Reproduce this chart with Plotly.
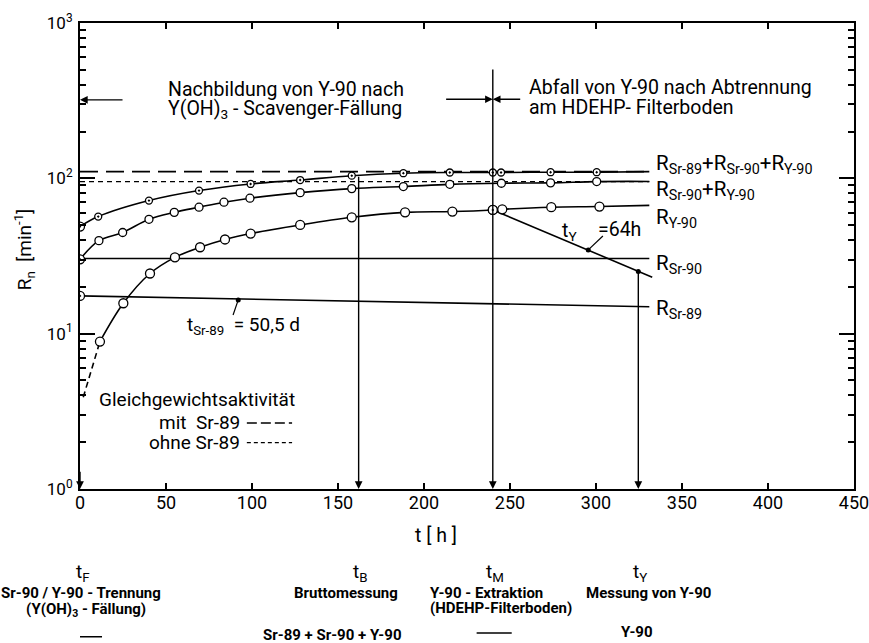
import math
import plotly.graph_objects as go

# ---------------- data ----------------
# R_Sr-89 + R_Sr-90 + R_Y-90 (measured points)
t_top = [0, 10.6, 40.1, 69.2, 99.2, 128, 158, 188, 215, 240, 244.8, 273.6, 300.4]
r_top = [48.9, 56.7, 71.9, 83.4, 92.0, 97.5, 104, 107.9, 109, 109, 109, 109.5, 109.5]
t_top_end = 331
r_top_end = 110.5

# R_Sr-90 + R_Y-90
t_mid = [0, 11, 24.8, 40.1, 54.8, 69.2, 83.7, 98.8, 128, 158, 188, 215, 245, 273.6, 300.4]
r_mid = [30.1, 39.7, 44.8, 54.5, 60.4, 65.2, 70.2, 74.5, 80.9, 85.9, 88.5, 91.5, 93.0, 93.5, 95.3]
t_mid_end = 331
r_mid_end = 95.5

# R_Y-90 ingrowth
t_y90 = [11.6, 25.2, 40.7, 55.2, 69.8, 84.3, 99.2, 128, 158, 189, 216.5, 240, 245.5, 274, 302]
r_y90 = [8.9, 15.7, 24.4, 31.0, 36.0, 40.4, 44.1, 50.1, 56.1, 60.4, 61.1, 62.6, 63.2, 65.2, 65.8]
t_y90_end = 331
r_y90_end = 67.0
t_y90_early = [1.9, 11.6]
r_y90_early = [3.9, 8.9]

# R_Sr-90 and R_Sr-89
t_sr = [0, 331]
r_sr90 = [30.5, 30.5]
r_sr89 = [17.5, 14.9]

# equilibrium activities
r_eq_mit = [110.5, 110.5]
r_eq_ohne = [95.2, 95.2]

# Y-90 decay after extraction
t_decay = [240, 332.7]
r_decay = [62.6, 23.1]
t_decay_pts = [295.5, 324.6]
r_decay_pts = [34.6, 25.1]

# t_Sr-89 marker point
t_sr89_pt = [92]
r_sr89_pt = [16.5]

# event times
t_F, t_B, t_M, t_Y = 0, 162, 240, 324.6
r_B_top, r_M_top, r_Y_top = 104.5, 514, 25.1

x_ticks = [0, 50, 100, 150, 200, 250, 300, 350, 400, 450]
y_ticks = [1, 10, 100, 1000]
y_ticktext = ["10<sup>0</sup>", "10<sup>1</sup>", "10<sup>2</sup>", "10<sup>3</sup>"]
y_minor = [m * 10 ** d for d in range(0, 3) for m in range(2, 10)]

FONT = "Roboto"
K = "black"
L = math.log10

fig = go.Figure()

def line(x, y, dash="solid", w=1.6, shape="linear"):
    fig.add_trace(go.Scatter(x=x, y=y, mode="lines",
                             line=dict(color=K, width=w, dash=dash, shape=shape),
                             hoverinfo="skip", showlegend=False))

def marks(x, y, symbol="circle", size=8):
    fig.add_trace(go.Scatter(x=x, y=y, mode="markers",
                             marker=dict(symbol=symbol, size=size, color="white",
                                         line=dict(color=K, width=1.3)),
                             hoverinfo="skip", showlegend=False))

# equilibrium lines
line(t_sr, r_eq_mit, dash="18px,8px", w=1.7)
line(t_sr, r_eq_ohne, dash="5px,4px", w=1.4)

# curves
line(t_top + [t_top_end], r_top + [r_top_end], shape="spline")
line(t_mid + [t_mid_end], r_mid + [r_mid_end], shape="spline")
line(t_y90 + [t_y90_end], r_y90 + [r_y90_end], shape="spline")
line(t_y90_early, r_y90_early, dash="6px,4px")
line(t_sr, r_sr90)
line(t_sr, r_sr89)
line(t_decay, r_decay)

marks(t_top, r_top, symbol="circle-dot", size=7)
marks(t_mid, r_mid, size=8)
marks(t_y90, r_y90, size=9)
marks([0], [r_top[0]], symbol="circle-dot", size=9)
marks([0], [r_mid[0]], symbol="circle-dot", size=9)
marks([0], [r_sr89[0]], symbol="circle-dot", size=9)
marks([240], [62.6], symbol="circle-dot", size=9)

fig.add_trace(go.Scatter(x=t_decay_pts + t_sr89_pt, y=r_decay_pts + r_sr89_pt, mode="markers",
                         marker=dict(size=5, color=K), hoverinfo="skip", showlegend=False))

# leader lines
line([92, 89], [16.5, 13.2], w=1.2)
line([295.5, 304], [34.6, 42.5], w=1.2)

# legend samples
line([97, 123.3], [2.66, 2.66], dash="10px,4px", w=1.4)
line([97, 123.3], [1.99, 1.99], dash="4px,3px", w=1.4)

ann = []

def arrow(x, y, ax, ay):
    ann.append(dict(x=x, y=y, ax=ax, ay=ay, xref="x", yref="y", axref="x", ayref="y",
                    text="", showarrow=True, arrowhead=2, arrowsize=1.1, arrowwidth=1.4,
                    arrowcolor=K, standoff=0))

arrow(t_B, 0, t_B, L(r_B_top))
arrow(t_M, 0, t_M, L(r_M_top))
arrow(t_Y, 0, t_Y, L(r_Y_top))
arrow(t_F, 0, t_F, 0.12)
arrow(0, L(320), 25.6, L(320))
arrow(t_M, L(323), 212, L(323))
arrow(t_M, L(323), 256.8, L(323))

def txt(x, y, s, size=19.5, xanchor="left", yanchor="middle", yref="y", bold=False):
    if bold:
        s = "<b>" + s + "</b>"
    ann.append(dict(x=x, y=y, xref="x", yref=yref, text=s, showarrow=False,
                    xanchor=xanchor, yanchor=yanchor,
                    font=dict(family=FONT, size=size, color=K)))

txt(50, 2.569, "Nachbildung von Y-90 nach")
txt(50, 2.44, "Y(OH)<sub>3</sub> - Scavenger-Fällung")
txt(260, 2.582, "Abfall von Y-90 nach Abtrennung")
txt(260, 2.453, "am HDEHP- Filterboden")

txt(334, 2.09, "R<sub>Sr-89</sub>+R<sub>Sr-90</sub>+R<sub>Y-90</sub>", size=20.5)
txt(334, 1.92, "R<sub>Sr-90</sub>+R<sub>Y-90</sub>", size=20.5)
txt(334, 1.74, "R<sub>Y-90</sub>", size=20.5)
txt(334, 1.445, "R<sub>Sr-90</sub>", size=20.5)
txt(334, 1.155, "R<sub>Sr-89</sub>", size=20.5)

txt(61, 1.05, "t<sub>Sr-89</sub>  = 50,5 d", size=19)
txt(279, 1.655, "t<sub>Y</sub>", size=19.5)
txt(300, 1.668, "=64h", size=19.5)

txt(9.9, 0.573, "Gleichgewichtsaktivität", size=19)
txt(94, 0.425, "mit  Sr-89", size=19, xanchor="right")
txt(94, 0.298, "ohne Sr-89", size=19, xanchor="right")

# axis title for x
txt(207, -0.099, "t [ h ]", size=19.5, xanchor="center", yref="paper")

# bottom captions
def py(p):
    return (489 - p) / 466.0

CS = 15
txt(1.7, py(572), "t<sub>F</sub>", size=19, xanchor="center", yref="paper")
txt(0.6, py(592.7), "Sr-90 / Y-90 - Trennung", size=CS, xanchor="center", yref="paper", bold=True)
txt(3.5, py(610), "(Y(OH)<sub>3</sub> - Fällung)", size=CS, xanchor="center", yref="paper", bold=True)
txt(162.8, py(572), "t<sub>B</sub>", size=19, xanchor="center", yref="paper")
txt(154.7, py(592.7), "Bruttomessung", size=CS, xanchor="center", yref="paper", bold=True)
txt(147, py(635), "Sr-89 + Sr-90 + Y-90", size=CS, xanchor="center", yref="paper", bold=True)
txt(241, py(572), "t<sub>M</sub>", size=19, xanchor="center", yref="paper")
txt(236.6, py(592.7), "Y-90 - Extraktion", size=CS, xanchor="center", yref="paper", bold=True)
txt(244.8, py(608), "(HDEHP-Filterboden)", size=CS, xanchor="center", yref="paper", bold=True)
txt(325.6, py(572), "t<sub>Y</sub>", size=19, xanchor="center", yref="paper")
txt(330.8, py(592.7), "Messung von Y-90", size=CS, xanchor="center", yref="paper", bold=True)
txt(323.8, py(631.7), "Y-90", size=CS, xanchor="center", yref="paper", bold=True)

# y axis title
ann.append(dict(xref="paper", yref="paper", x=-0.072, y=py(249), text="R<sub>n</sub>  [min<sup>-1</sup>]",
                textangle=-90, showarrow=False, xanchor="center", yanchor="middle",
                font=dict(family=FONT, size=19, color=K)))

shapes = [
    dict(type="line", xref="x", yref="paper", x0=-7, x1=12.8, y0=py(636.7), y1=py(636.7),
         line=dict(color=K, width=1.6)),
    dict(type="line", xref="x", yref="paper", x0=230.6, x1=251, y0=py(633), y1=py(633),
         line=dict(color=K, width=1.6)),
]

fig.update_layout(
    template="none",
    width=869, height=643,
    margin=dict(l=80, r=15, t=23, b=154),
    paper_bgcolor="white", plot_bgcolor="white",
    font=dict(family=FONT, size=17, color=K),
    annotations=ann, shapes=shapes,
    xaxis=dict(range=[0, 450], tickvals=x_ticks, ticks="inside", ticklen=6, tickwidth=1.5,
               tickcolor=K, showline=True, linewidth=2, linecolor=K, mirror="allticks",
               showgrid=False, zeroline=False, tickfont=dict(size=18, family=FONT),
               ticklabelstandoff=-4, automargin=False, ticklabeloverflow="allow"),
    yaxis=dict(type="log", range=[0, 3], tickvals=y_ticks, ticktext=y_ticktext,
               ticks="inside", ticklen=15, tickwidth=1.5, tickcolor=K,
               showline=True, linewidth=2, linecolor=K, mirror="allticks",
               showgrid=False, zeroline=False, tickfont=dict(size=17, family=FONT),
               ticklabelstandoff=2, automargin=False, ticklabeloverflow="allow",
               minor=dict(tickvals=y_minor, ticks="inside", ticklen=6, tickwidth=1.5,
                          tickcolor=K, showgrid=False)),
)

fig.write_html("out.html")
